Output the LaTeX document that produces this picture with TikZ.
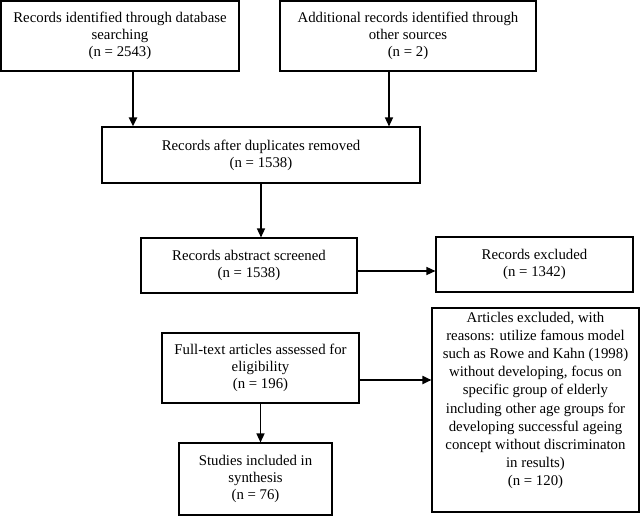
\documentclass[tikz,border=0pt]{standalone}
\usepackage{fontspec}
\setmainfont{Liberation Serif}
\usetikzlibrary{arrows.meta}

\tikzset{
  stage/.style={draw, line width=1.1pt, align=center, inner sep=2pt,
    font=\fontsize{14.8}{16.8}\selectfont},
  flow/.style={-{Triangle[width=8pt,length=9pt]}, line width=1.4pt},
}

\begin{document}
\begin{tikzpicture}[x=1pt,y=-1pt]
  \useasboundingbox (0,0) rectangle (640,516);

  % identification
  \node[stage, minimum width=238pt, minimum height=70pt] (dbsearch) at (120,36)
    {Records identified through database\\ searching\\ (n = 2543)};
  \node[stage, minimum width=256pt, minimum height=70pt] (othersrc) at (408,36)
    {Additional records identified through\\ other sources\\ (n = 2)};

  % screening
  \node[stage, minimum width=318pt, minimum height=56pt] (dedup) at (261,155)
    {Records after duplicates removed\\ (n = 1538)};
  \node[stage, minimum width=216pt, minimum height=55pt] (abscreen) at (249,265.5)
    {Records abstract screened\\ (n = 1538)};
  \node[stage, minimum width=197pt, minimum height=55pt] (recexcl) at (534.5,264.5)
    {Records excluded\\ (n = 1342)};

  % eligibility and inclusion
  \node[stage, minimum width=197pt, minimum height=70pt] (fulltext) at (260.5,368)
    {Full-text articles assessed for\\ eligibility\\ (n = 196)};
  \node[stage, minimum width=207pt, minimum height=204pt,
    font=\fontsize{14.8}{18.2}\selectfont] (artexcl) at (535.5,410)
    {Articles excluded, with\\ reasons: utilize famous model\\ such as Rowe and Kahn (1998)\\
     without developing, focus on\\ specific group of elderly\\ including other age groups for\\
     developing successful ageing\\ concept without discriminaton\\ in results)\\ (n = 120)\\[4pt]};
  \node[stage, minimum width=153pt, minimum height=72pt] (included) at (255.5,479)
    {Studies included in\\ synthesis\\ (n = 76)};

  % connectors
  \draw[flow, line width=2.6pt] ([xshift=13pt]dbsearch.south) -- ([xshift=13pt]dbsearch.south |- dedup.north);
  \draw[flow] ([xshift=-19pt]othersrc.south) -- ([xshift=-19pt]othersrc.south |- dedup.north);
  \draw[flow] (dedup.south) -- (dedup.south |- abscreen.north);
  \draw[flow] ([yshift=-5.5pt]abscreen.east) -- ([yshift=-5.5pt]abscreen.east -| recexcl.west);
  \draw[flow, line width=1.8pt] ([yshift=-12pt]fulltext.east) -- ([yshift=-12pt]fulltext.east -| artexcl.west);
  \draw[flow] (fulltext.south) -- (fulltext.south |- included.north);
\end{tikzpicture}
\end{document}
